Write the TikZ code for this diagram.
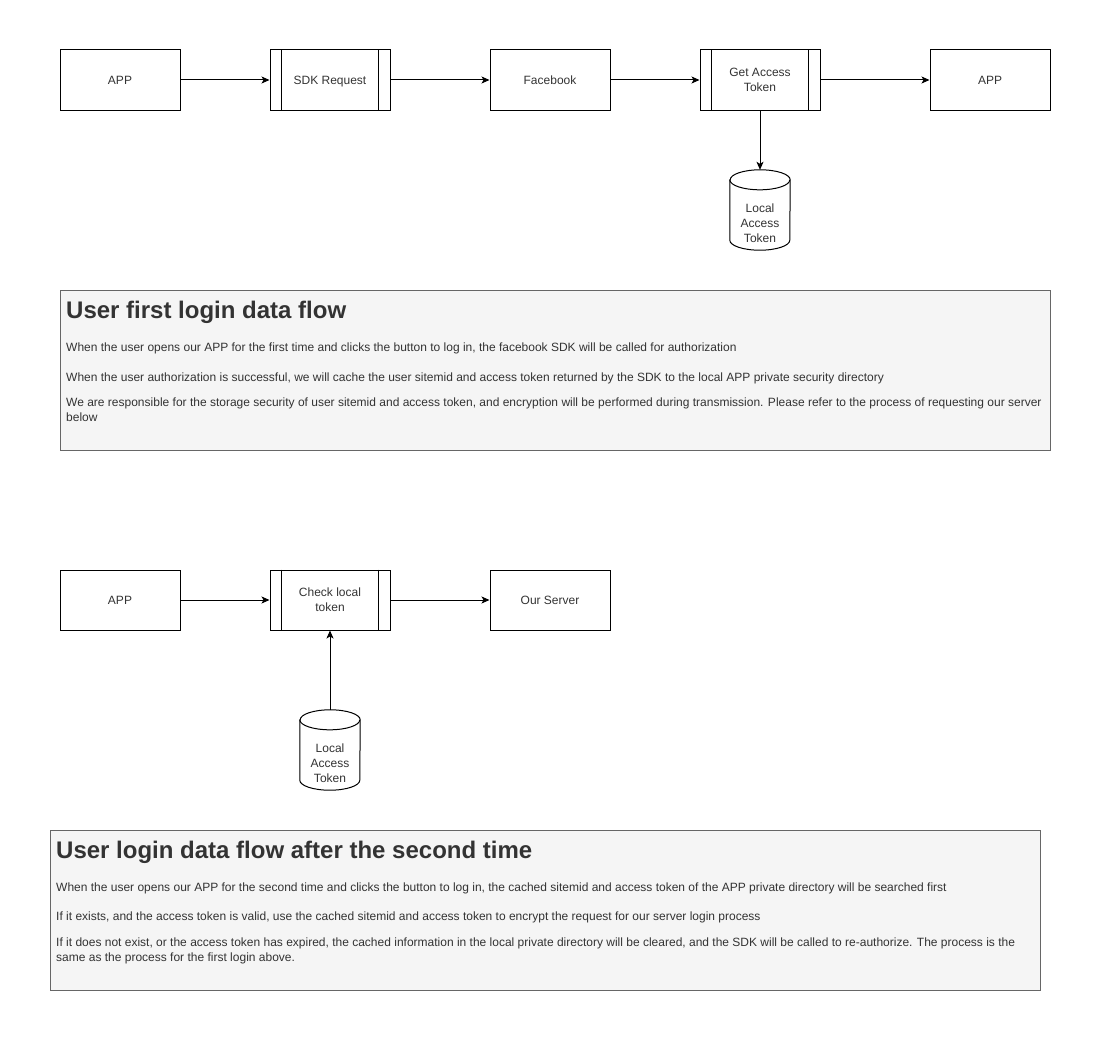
\documentclass[tikz,border=0pt]{standalone}
\usepackage{fontspec}
\setmainfont{Liberation Sans}
\usetikzlibrary{arrows.meta}
\definecolor{txt}{HTML}{333333}
\definecolor{notefill}{HTML}{F5F5F5}
\definecolor{noteline}{HTML}{666666}
\tikzset{
  box/.style={draw=black, line width=1pt, minimum width=120pt, minimum height=60pt, inner sep=2pt, align=center, font=\fontsize{12}{15}\selectfont, text=txt},
  one/.style={text height=8.6pt, text depth=0pt},
  proc/.style={box, append after command={
     \pgfextra{\draw[line width=1pt] ([xshift=12pt]\tikzlastnode.north west) -- ([xshift=12pt]\tikzlastnode.south west);
               \draw[line width=1pt] ([xshift=-12pt]\tikzlastnode.north east) -- ([xshift=-12pt]\tikzlastnode.south east);}}},
  cylbox/.style={minimum width=60pt, minimum height=80pt, inner sep=0pt},
  cyltext/.style={inner sep=0pt, align=center, font=\fontsize{12}{15}\selectfont, text=txt},
  flow/.style={line width=1pt, -{Stealth[length=8pt,width=7pt,inset=2pt]}},
  note/.style={draw=noteline, fill=notefill, line width=1pt},
  title/.style={anchor=base west, inner sep=0pt, font=\fontsize{24}{28}\bfseries\selectfont, text=txt},
  para/.style={anchor=base west, inner sep=0pt, font=\fontsize{12}{15}\selectfont, text=txt},
}
\newcommand{\cylshape}[1]{%
  \draw[line width=1pt, fill=white] ([yshift=-10pt]#1.north west) -- ([yshift=10pt]#1.south west)
     arc[start angle=180, end angle=360, x radius=30pt, y radius=10pt]
     -- ([yshift=-10pt]#1.north east)
     arc[start angle=0, end angle=180, x radius=30pt, y radius=10pt] -- cycle;
  \draw[line width=1pt] ([yshift=-10pt]#1.north west) arc[start angle=180, end angle=360, x radius=30pt, y radius=10pt];
}
\begin{document}
\begin{tikzpicture}[x=1pt,y=-1pt]
\useasboundingbox (0,0) rectangle (1101,1041);
% ---- first flow
\node[box, one]  (app1) at (120,80) {APP};
\node[proc, one] (sdk)  at (330,80) {SDK Request};
\node[box, one]  (fb)   at (550,80) {Facebook};
\node[proc] (get)  at (760,80) {Get Access\\Token};
\node[box, one]  (app2) at (990,80) {APP};
\node[cylbox] (cyl1) at (760,210) {};
\cylshape{cyl1}
\node[cyltext] (cyl1t) at (760,223) {Local\\Access\\Token};
\draw[flow] (app1) -- (sdk);
\draw[flow] (sdk) -- (fb);
\draw[flow] (fb) -- (get);
\draw[flow] (get) -- (app2);
\draw[flow] (get.south) -- (cyl1.north);
% ---- first note
\node[note, minimum width=990pt, minimum height=160pt, anchor=north west, inner sep=0pt] (note1) at (60,290) {};
\node[title] (t1) at (66,318) {User first login data flow};
\node[para] (p11) at (66,351.5) {When the user opens our APP for the first time and clicks the button to log in, the facebook SDK will be called for authorization};
\node[para] (p12) at (66,381.5) {When the user authorization is successful, we will cache the user sitemid and access token returned by the SDK to the local APP private security directory};
\node[para] (p13) at (66,406.5) {We are responsible for the storage security of user sitemid and access token, and encryption will be performed during transmission. Please refer to the process of requesting our server};
\node[para] (p14) at (66,421.5) {below};
% ---- second flow
\node[box, one]  (app3) at (120,600) {APP};
\node[proc] (chk)  at (330,600) {Check local\\token};
\node[box, one]  (srv)  at (550,600) {Our Server};
\node[cylbox] (cyl2) at (330,750) {};
\cylshape{cyl2}
\node[cyltext] (cyl2t) at (330,763) {Local\\Access\\Token};
\draw[flow] (app3) -- (chk);
\draw[flow] (chk) -- (srv);
\draw[flow] (cyl2.north) -- (chk.south);
% ---- second note
\node[note, minimum width=990pt, minimum height=160pt, anchor=north west, inner sep=0pt] (note2) at (50,830) {};
\node[title] (t2) at (56,858) {User login data flow after the second time};
\node[para] (p21) at (56,891.5) {When the user opens our APP for the second time and clicks the button to log in, the cached sitemid and access token of the APP private directory will be searched first};
\node[para] (p22) at (56,920.5) {If it exists, and the access token is valid, use the cached sitemid and access token to encrypt the request for our server login process};
\node[para] (p23) at (56,946.5) {If it does not exist, or the access token has expired, the cached information in the local private directory will be cleared, and the SDK will be called to re-authorize. The process is the};
\node[para] (p24) at (56,961.5) {same as the process for the first login above.};
\end{tikzpicture}
\end{document}
